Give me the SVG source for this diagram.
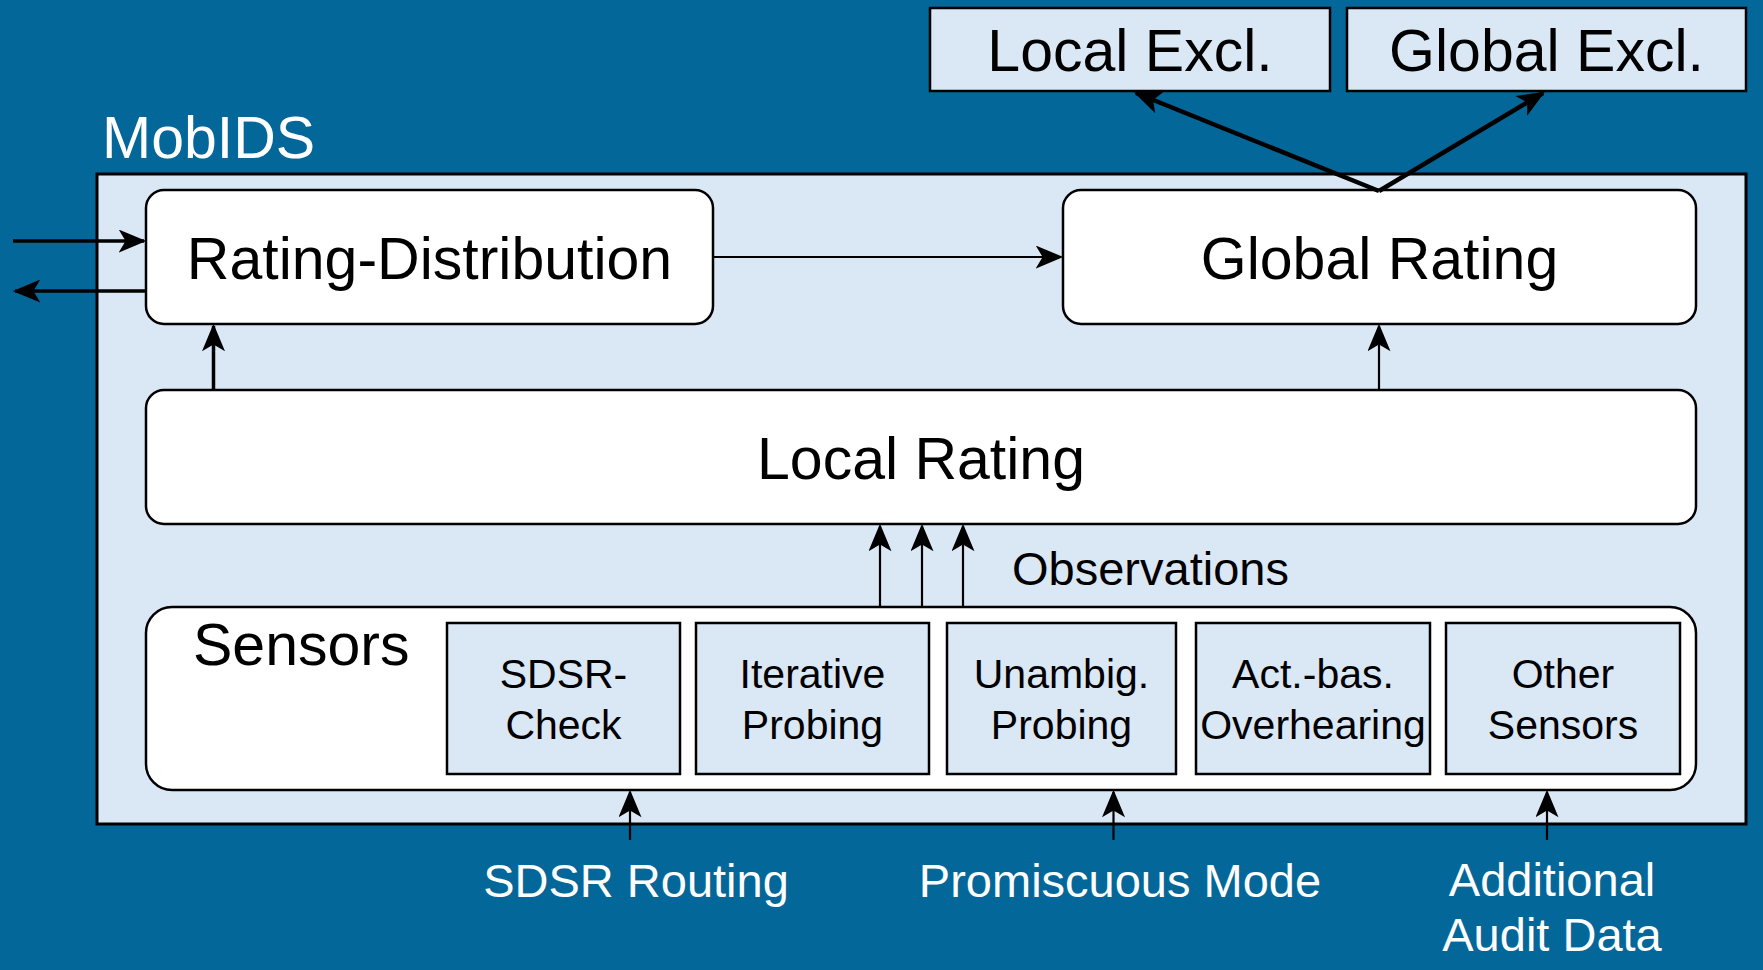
<svg xmlns="http://www.w3.org/2000/svg" width="1763" height="970" viewBox="0 0 1763 970">
<defs>
<style>
.t{font-family:"Liberation Sans",Arial,sans-serif;fill:#000}
.w{fill:#fff}
.big{font-size:59px}
.mid{font-size:47px}
.sm{font-size:41px}
.rnd{fill:#fff;stroke:#000;stroke-width:2.5}
.sq{fill:#dae7f4;stroke:#000;stroke-width:2.5}
.c{fill:none;stroke:#000;stroke-width:2.2}
.ct{fill:none;stroke:#000;stroke-width:3.5}
.cx{fill:none;stroke:#000;stroke-width:4.5}
</style>
<marker id="m" viewBox="0 0 12 10" refX="11" refY="5" markerWidth="28" markerHeight="23" markerUnits="userSpaceOnUse" orient="auto">
<path d="M0,0 L12,5 L0,10 L3,5 z" fill="#000"/>
</marker>
</defs>
<rect x="0" y="0" width="1763" height="970" fill="#036799"/>

<g id="mobids">
<rect x="97" y="174" width="1649" height="650" fill="#dae7f4" stroke="#000" stroke-width="3"/>
<text class="t w big" x="102" y="158">MobIDS</text>
</g>

<g id="local-excl">
<rect class="sq" x="930" y="8" width="400" height="83"/>
<text class="t big" x="1130" y="71" text-anchor="middle">Local Excl.</text>
</g>
<g id="global-excl">
<rect class="sq" x="1347" y="8" width="399" height="83"/>
<text class="t big" x="1546.5" y="71" text-anchor="middle">Global Excl.</text>
</g>

<g id="rating-distribution">
<rect class="rnd" x="146" y="190" width="567" height="134" rx="18"/>
<text class="t big" x="429.5" y="279" text-anchor="middle">Rating-Distribution</text>
</g>
<g id="global-rating">
<rect class="rnd" x="1063" y="190" width="633" height="134" rx="18"/>
<text class="t big" x="1379.5" y="279" text-anchor="middle">Global Rating</text>
</g>
<g id="local-rating">
<rect class="rnd" x="146" y="390" width="1550" height="134" rx="18"/>
<text class="t big" x="921" y="479" text-anchor="middle">Local Rating</text>
</g>

<g id="sensors">
<rect class="rnd" x="146" y="607" width="1550" height="183" rx="26"/>
<text class="t big" x="193" y="665">Sensors</text>
</g>
<g id="sdsr-check">
<rect class="sq" x="447" y="623" width="233" height="151"/>
<text class="t sm" x="563.5" y="688" text-anchor="middle">SDSR-</text>
<text class="t sm" x="563.5" y="739" text-anchor="middle">Check</text>
</g>
<g id="iterative-probing">
<rect class="sq" x="696" y="623" width="233" height="151"/>
<text class="t sm" x="812.5" y="688" text-anchor="middle">Iterative</text>
<text class="t sm" x="812.5" y="739" text-anchor="middle">Probing</text>
</g>
<g id="unambig-probing">
<rect class="sq" x="947" y="623" width="229" height="151"/>
<text class="t sm" x="1061.5" y="688" text-anchor="middle">Unambig.</text>
<text class="t sm" x="1061.5" y="739" text-anchor="middle">Probing</text>
</g>
<g id="act-bas-overhearing">
<rect class="sq" x="1196" y="623" width="234" height="151"/>
<text class="t sm" x="1313" y="688" text-anchor="middle">Act.-bas.</text>
<text class="t sm" x="1313" y="739" text-anchor="middle">Overhearing</text>
</g>
<g id="other-sensors">
<rect class="sq" x="1446" y="623" width="234" height="151"/>
<text class="t sm" x="1563" y="688" text-anchor="middle">Other</text>
<text class="t sm" x="1563" y="739" text-anchor="middle">Sensors</text>
</g>

<g id="labels">
<text class="t mid" x="1012" y="585">Observations</text>
<text class="t w mid" x="636" y="897" text-anchor="middle">SDSR Routing</text>
<text class="t w mid" x="1120" y="897" text-anchor="middle">Promiscuous Mode</text>
<text class="t w mid" x="1552" y="896" text-anchor="middle">Additional</text>
<text class="t w mid" x="1552" y="951" text-anchor="middle">Audit Data</text>
</g>

<g id="connectors">
<line class="ct" x1="13" y1="241" x2="144" y2="241" marker-end="url(#m)"/>
<line class="ct" x1="146" y1="291" x2="15" y2="291" marker-end="url(#m)"/>
<line class="c" x1="713" y1="257" x2="1061" y2="257" marker-end="url(#m)"/>
<line class="ct" x1="213.5" y1="390" x2="213.5" y2="326" marker-end="url(#m)"/>
<line class="c" x1="1379" y1="390" x2="1379" y2="326" marker-end="url(#m)"/>
<line class="cx" x1="1379" y1="191" x2="1136" y2="93" marker-end="url(#m)"/>
<line class="cx" x1="1379" y1="191" x2="1543" y2="93" marker-end="url(#m)"/>
<line class="c" x1="880" y1="607" x2="880" y2="526" marker-end="url(#m)"/>
<line class="c" x1="922" y1="607" x2="922" y2="526" marker-end="url(#m)"/>
<line class="c" x1="963" y1="607" x2="963" y2="526" marker-end="url(#m)"/>
<line class="c" x1="630" y1="840" x2="630" y2="792" marker-end="url(#m)"/>
<line class="c" x1="1113.5" y1="840" x2="1113.5" y2="792" marker-end="url(#m)"/>
<line class="c" x1="1547" y1="840" x2="1547" y2="792" marker-end="url(#m)"/>
</g>
</svg>
